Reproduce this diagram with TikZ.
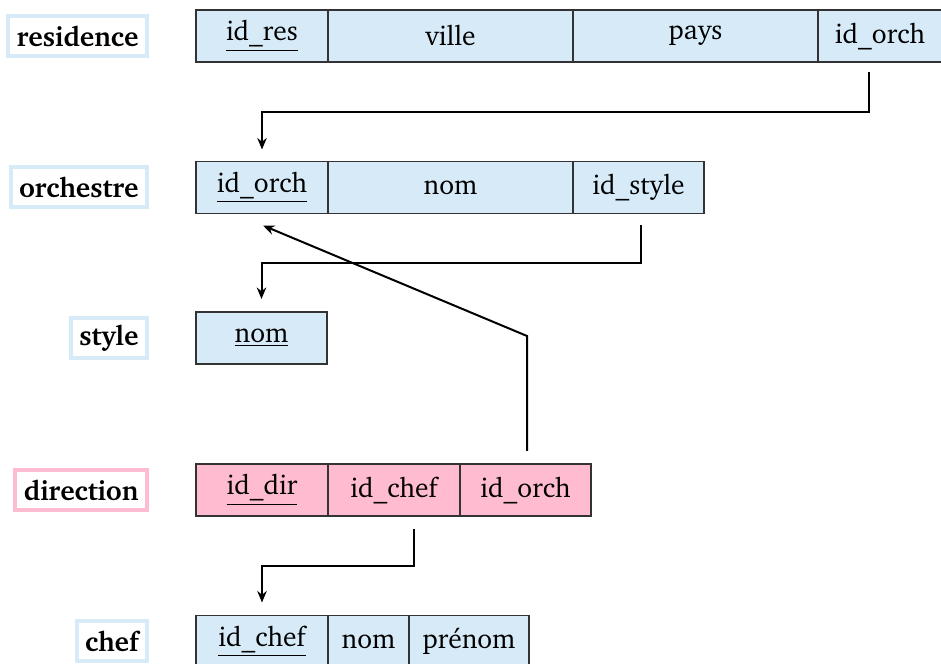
\documentclass[tikz,border=0pt]{standalone}
\usepackage[T1]{fontenc}
\usepackage{charter}
\usetikzlibrary{positioning,arrows.meta}

\definecolor{tblue}{HTML}{D6EAF8}
\definecolor{tpink}{HTML}{FFBBD0}

\tikzset{
    cell/.style={draw=black!80, line width=0.55pt, outer sep=0pt, inner sep=0pt, minimum height=20.8pt, anchor=west},
    tname/.style={draw=#1, line width=1.6pt, fill=white, font=\bfseries, inner xsep=3.4pt, inner ysep=0pt, minimum height=16pt, anchor=east},
    link/.style={-{Stealth[length=4.6pt,width=3.8pt]}, line width=0.8pt},
}

\begin{document}
\fontsize{11pt}{13pt}\selectfont
\begin{tikzpicture}[x=0.4pt,y=-0.4pt]
    \useasboundingbox (0,0) rectangle (941,664);

    % Table names, right aligned
    \foreach \n/\t/\y/\c in {lres/residence/36/tblue, lorch/orchestre/187.5/tblue, lstyle/style/338/tblue, ldir/direction/490/tpink, lchef/chef/641.5/tblue}
        \node[tname=\c] (\n) at (149,\y) {\t};

    % residence
    \node[cell, fill=tblue, minimum width=52.8pt] (resid) at (196,36) {\underline{id\_res}};
    \node[cell, fill=tblue, minimum width=98pt, right=0pt of resid] (resville) {ville};
    \node[cell, fill=tblue, minimum width=98pt, right=0pt of resville] (respays) {pays};
    \node[cell, fill=tblue, minimum width=49.6pt, right=0pt of respays] (resorch) {id\_orch};

    % orchestre
    \node[cell, fill=tblue, minimum width=52.8pt] (orchid) at (196,187.5) {\underline{id\_orch}};
    \node[cell, fill=tblue, minimum width=98pt, right=0pt of orchid] (orchnom) {nom};
    \node[cell, fill=tblue, minimum width=52.4pt, right=0pt of orchnom] (orchstyle) {id\_style};

    % style
    \node[cell, fill=tblue, minimum width=52.4pt] (stylenom) at (196,338) {\underline{nom}};

    % direction
    \node[cell, fill=tpink, minimum width=52.8pt] (dirid) at (196,490) {\underline{id\_dir}};
    \node[cell, fill=tpink, minimum width=52.8pt, right=0pt of dirid] (dirchef) {id\_chef};
    \node[cell, fill=tpink, minimum width=52.4pt, right=0pt of dirchef] (dirorch) {id\_orch};

    % chef
    \node[cell, fill=tblue, minimum width=52.8pt] (chefid) at (196,641.5) {\underline{id\_chef}};
    \node[cell, fill=tblue, minimum width=32.4pt, right=0pt of chefid] (chefnom) {nom};
    \node[cell, fill=tblue, minimum width=48pt, right=0pt of chefnom] (chefprenom) {prénom};

    % Foreign keys
    \draw[link] ([xshift=-4.6pt,yshift=-4pt]resorch.south) -- ++(0,-16pt) -| ([yshift=4.8pt]orchid.north);
    \draw[link] ([xshift=1pt,yshift=-4.8pt]orchstyle.south) -- ++(0,-15.2pt) -| ([yshift=5.2pt]stylenom.north);
    \draw[link] ([xshift=0.6pt,yshift=5.2pt]dirorch.north) -- ++(0,46pt) -- ([xshift=0.4pt,yshift=-4.8pt]orchid.south);
    \draw[link] ([xshift=8pt,yshift=-5.2pt]dirchef.south) -- ++(0,-14.8pt) -| ([yshift=5.2pt]chefid.north);
\end{tikzpicture}
\end{document}
